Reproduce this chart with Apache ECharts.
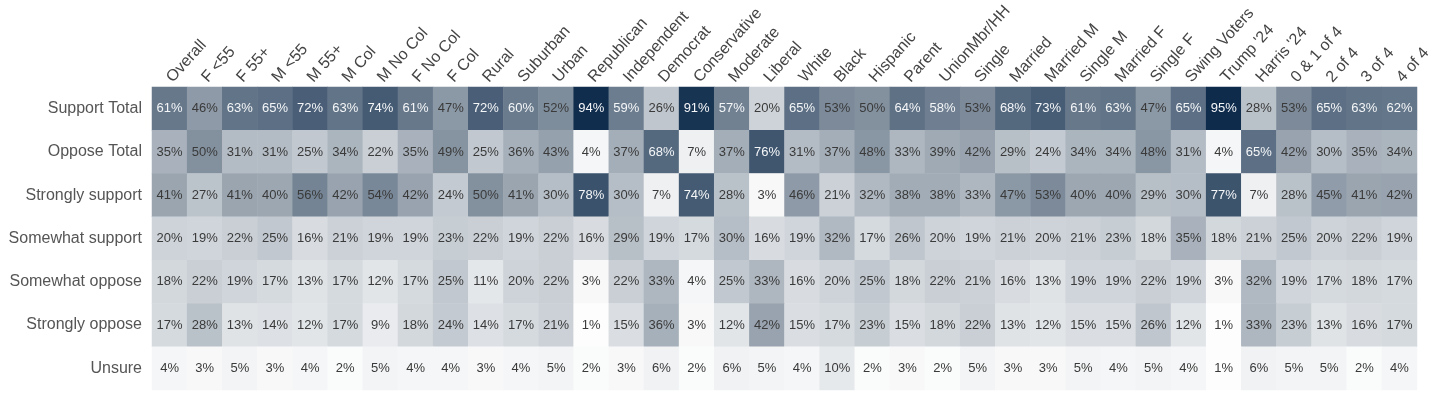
<!DOCTYPE html>
<html>
<head>
<meta charset="utf-8">
<script src="https://cdn.jsdelivr.net/npm/echarts@6/dist/echarts.min.js"></script>
<style>
html,body{margin:0;padding:0;background:#fff;}
#chart{width:1450px;height:398px;}
</style>
</head>
<body>
<div id="chart"></div>
<script>
var columns = ["Overall","F <55","F 55+","M <55","M 55+","M Col","M No Col","F No Col","F Col","Rural","Suburban","Urban","Republican","Independent","Democrat","Conservative","Moderate","Liberal","White","Black","Hispanic","Parent","UnionMbr/HH","Single","Married","Married M","Single M","Married F","Single F","Swing Voters","Trump '24","Harris '24","0 & 1 of 4","2 of 4","3 of 4","4 of 4"];
var rows = ["Support Total","Oppose Total","Strongly support","Somewhat support","Somewhat oppose","Strongly oppose","Unsure"];

var supportTotal    = [61,46,63,65,72,63,74,61,47,72,60,52,94,59,26,91,57,20,65,53,50,64,58,53,68,73,61,63,47,65,95,28,53,65,63,62];
var opposeTotal     = [35,50,31,31,25,34,22,35,49,25,36,43,4,37,68,7,37,76,31,37,48,33,39,42,29,24,34,34,48,31,4,65,42,30,35,34];
var stronglySupport = [41,27,41,40,56,42,54,42,24,50,41,30,78,30,7,74,28,3,46,21,32,38,38,33,47,53,40,40,29,30,77,7,28,45,41,42];
var somewhatSupport = [20,19,22,25,16,21,19,19,23,22,19,22,16,29,19,17,30,16,19,32,17,26,20,19,21,20,21,23,18,35,18,21,25,20,22,19];
var somewhatOppose  = [18,22,19,17,13,17,12,17,25,11,20,22,3,22,33,4,25,33,16,20,25,18,22,21,16,13,19,19,22,19,3,32,19,17,18,17];
var stronglyOppose  = [17,28,13,14,12,17,9,18,24,14,17,21,1,15,36,3,12,42,15,17,23,15,18,22,13,12,15,15,26,12,1,33,23,13,16,17];
var unsure          = [4,3,5,3,4,2,5,4,4,3,4,5,2,3,6,2,6,5,4,10,2,3,2,5,3,3,5,4,5,4,1,6,5,5,2,4];

var rowValues = [supportTotal, opposeTotal, stronglySupport, somewhatSupport, somewhatOppose, stronglyOppose, unsure];

var data = [];
rowValues.forEach(function (vals, r) {
  vals.forEach(function (v, c) {
    data.push({ value: [c, r, v], label: { color: v >= 57 ? '#f4f6f8' : '#3a3a3a' } });
  });
});

var chart = echarts.init(document.getElementById('chart'));
chart.setOption({
  animation: false,
  grid: { left: 152, right: 33, top: 87, bottom: 8 },
  xAxis: {
    type: 'category',
    position: 'top',
    data: columns,
    axisLine: { show: false },
    axisTick: { show: false },
    splitLine: { show: false },
    axisLabel: {
      interval: 0,
      rotate: -48,
      margin: 7,
      color: '#444',
      fontSize: 16,
      fontFamily: 'Liberation Sans, Arial, sans-serif'
    }
  },
  yAxis: {
    type: 'category',
    inverse: true,
    data: rows,
    axisLine: { show: false },
    axisTick: { show: false },
    splitLine: { show: false },
    axisLabel: {
      margin: 10,
      color: '#555',
      fontSize: 16,
      fontFamily: 'Liberation Sans, Arial, sans-serif'
    }
  },
  visualMap: {
    show: false,
    min: 0,
    max: 95,
    dimension: 2,
    inRange: { color: ['#ffffff', '#8a97a4', '#0e2b4c'] }
  },
  series: [{
    type: 'heatmap',
    data: data,
    itemStyle: { borderWidth: 0 },
    label: {
      show: true,
      fontSize: 13,
      fontFamily: 'Liberation Sans, Arial, sans-serif',
      formatter: function (p) { return p.value[2] + '%'; }
    }
  }]
});
</script>
</body>
</html>
